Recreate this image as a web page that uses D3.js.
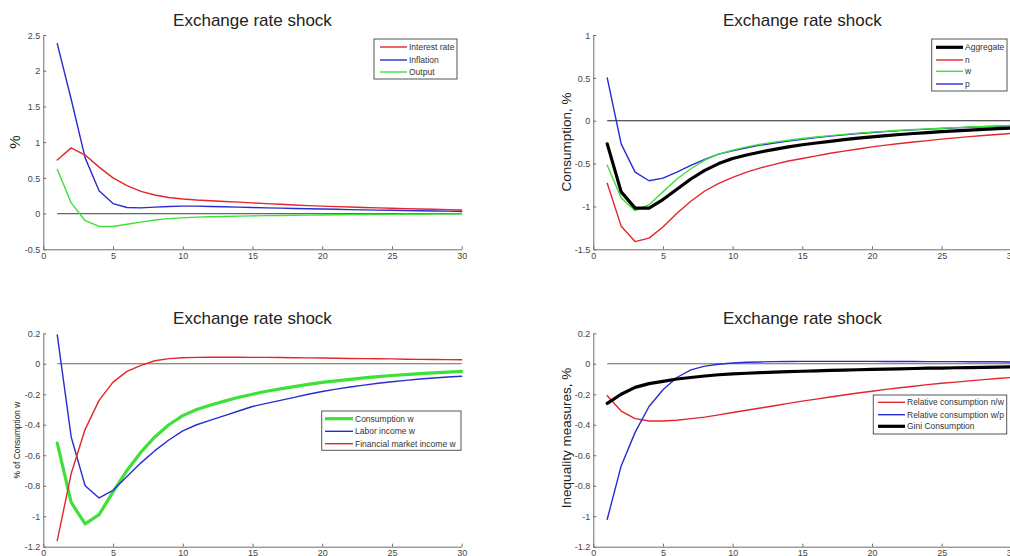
<!DOCTYPE html>
<html><head><meta charset="utf-8">
<script src="https://cdn.jsdelivr.net/npm/d3@7"></script>
<style>
html,body{margin:0;padding:0;background:#fff;overflow:hidden;}
text{font-family:"Liberation Sans",Arial,sans-serif;}
</style></head>
<body>
<svg id="c" width="1010" height="556"></svg>
<script>
// ---- data ----
const periods = d3.range(1, 31);
const xTicks = [0, 5, 10, 15, 20, 25, 30];
const chartTitle = "Exchange rate shock";

// Panel 1
const p1Labels = ["Interest rate", "Inflation", "Output"];
const p1YTicks = [-0.5, 0, 0.5, 1, 1.5, 2, 2.5];
const interestRate = [0.75,0.92,0.82,0.65,0.50,0.39,0.31,0.26,0.225,0.205,0.19,0.18,0.17,0.16,0.15,0.14,0.13,0.12,0.112,0.105,0.098,0.092,0.086,0.08,0.075,0.07,0.065,0.06,0.055,0.05];
const inflation = [2.38,1.60,0.78,0.32,0.14,0.085,0.08,0.09,0.10,0.105,0.105,0.10,0.095,0.09,0.085,0.08,0.076,0.072,0.068,0.064,0.06,0.056,0.052,0.049,0.046,0.043,0.04,0.037,0.034,0.03];
const output = [0.62,0.15,-0.10,-0.18,-0.18,-0.15,-0.12,-0.09,-0.07,-0.06,-0.05,-0.045,-0.04,-0.036,-0.032,-0.029,-0.026,-0.023,-0.021,-0.019,-0.017,-0.015,-0.013,-0.012,-0.011,-0.01,-0.009,-0.008,-0.007,-0.006];

// Panel 2
const p2Labels = ["Aggregate", "n", "w", "p"];
const p2YTicks = [-1.5, -1, -0.5, 0, 0.5, 1];
const consAggregate = [-0.27,-0.83,-1.02,-1.02,-0.92,-0.80,-0.68,-0.58,-0.50,-0.44,-0.40,-0.365,-0.335,-0.305,-0.28,-0.26,-0.24,-0.22,-0.203,-0.188,-0.174,-0.161,-0.149,-0.138,-0.128,-0.118,-0.109,-0.1,-0.092,-0.085];
const consN = [-0.73,-1.23,-1.41,-1.37,-1.24,-1.08,-0.94,-0.82,-0.73,-0.66,-0.60,-0.55,-0.51,-0.47,-0.44,-0.41,-0.38,-0.355,-0.33,-0.305,-0.285,-0.265,-0.248,-0.232,-0.215,-0.2,-0.186,-0.172,-0.16,-0.148];
const consW = [-0.52,-0.90,-1.05,-0.98,-0.83,-0.68,-0.56,-0.46,-0.39,-0.345,-0.305,-0.275,-0.25,-0.228,-0.208,-0.19,-0.174,-0.159,-0.145,-0.133,-0.122,-0.112,-0.103,-0.095,-0.087,-0.08,-0.073,-0.067,-0.061,-0.055];
const consP = [0.50,-0.27,-0.60,-0.70,-0.67,-0.60,-0.52,-0.45,-0.39,-0.35,-0.315,-0.285,-0.26,-0.237,-0.216,-0.197,-0.18,-0.165,-0.151,-0.138,-0.127,-0.116,-0.107,-0.098,-0.09,-0.083,-0.076,-0.07,-0.064,-0.059];

// Panel 3
const p3Labels = ["Consumption w", "Labor income w", "Financial market income w"];
const p3YTicks = [-1.2, -1, -0.8, -0.6, -0.4, -0.2, 0, 0.2];
const consumptionW = [-0.52,-0.91,-1.05,-0.99,-0.84,-0.70,-0.58,-0.48,-0.40,-0.34,-0.30,-0.27,-0.245,-0.22,-0.20,-0.18,-0.165,-0.15,-0.135,-0.122,-0.112,-0.102,-0.093,-0.084,-0.077,-0.071,-0.065,-0.06,-0.055,-0.05];
const laborIncomeW = [0.19,-0.48,-0.80,-0.88,-0.83,-0.74,-0.65,-0.57,-0.50,-0.44,-0.40,-0.37,-0.34,-0.31,-0.28,-0.26,-0.24,-0.22,-0.2,-0.182,-0.166,-0.152,-0.14,-0.128,-0.118,-0.109,-0.1,-0.093,-0.087,-0.082];
const finIncomeW = [-1.16,-0.72,-0.43,-0.24,-0.12,-0.05,-0.01,0.02,0.034,0.04,0.042,0.043,0.043,0.043,0.042,0.042,0.041,0.04,0.039,0.038,0.036,0.035,0.034,0.033,0.032,0.03,0.029,0.028,0.027,0.026];

// Panel 4
const p4Labels = ["Relative consumption n/w", "Relative consumption w/p", "Gini Consumption"];
const p4YTicks = [-1.2, -1, -0.8, -0.6, -0.4, -0.2, 0, 0.2];
const relConsNW = [-0.21,-0.31,-0.36,-0.375,-0.375,-0.37,-0.36,-0.35,-0.335,-0.32,-0.305,-0.29,-0.275,-0.26,-0.245,-0.232,-0.218,-0.205,-0.192,-0.18,-0.168,-0.157,-0.147,-0.137,-0.128,-0.12,-0.112,-0.104,-0.097,-0.09];
const relConsWP = [-1.02,-0.67,-0.45,-0.28,-0.17,-0.09,-0.04,-0.015,-0.003,0.005,0.01,0.012,0.014,0.015,0.016,0.016,0.016,0.016,0.016,0.016,0.015,0.015,0.015,0.014,0.014,0.014,0.013,0.013,0.013,0.012];
const giniCons = [-0.26,-0.20,-0.155,-0.13,-0.115,-0.10,-0.09,-0.08,-0.072,-0.066,-0.062,-0.058,-0.055,-0.052,-0.049,-0.046,-0.043,-0.041,-0.039,-0.037,-0.035,-0.033,-0.031,-0.029,-0.028,-0.026,-0.025,-0.023,-0.022,-0.02];

// ---- styling ----
const RED = "#e3262b", BLUE = "#2b2bcf", GREEN = "#3ee03a", BLACK = "#000";
const THIN = 1.4, THICK = 3.2;

const panels = [
  { x0: 43.3, x1: 461.7, yTop: 35, yBot: 249.3, yDomain: [-0.5, 2.5], yTicks: p1YTicks,
    titleY: 26, ylabel: "%", ylabelX: 15, ylabelY: 142, ylabelSize: 15,
    series: [
      { name: p1Labels[0], values: interestRate, color: RED, w: THIN },
      { name: p1Labels[1], values: inflation, color: BLUE, w: THIN },
      { name: p1Labels[2], values: output, color: GREEN, w: THIN }
    ], drawOrder: [2, 1, 0],
    legend: { x: 374, y: 39, w: 83, h: 40, lineX0: 380, lineX1: 407, rows: [47, 60, 72], zeroColor: "#666" } },
  { x0: 593.3, x1: 1011.3, yTop: 35, yBot: 249.3, yDomain: [-1.5, 1], yTicks: p2YTicks,
    titleY: 26, ylabel: "Consumption, %", ylabelX: 566, ylabelY: 142, ylabelSize: 13.5,
    series: [
      { name: p2Labels[0], values: consAggregate, color: BLACK, w: THICK },
      { name: p2Labels[1], values: consN, color: RED, w: THIN },
      { name: p2Labels[2], values: consW, color: GREEN, w: THIN },
      { name: p2Labels[3], values: consP, color: BLUE, w: THIN }
    ], drawOrder: [1, 3, 2, 0],
    legend: { x: 931.7, y: 39, w: 75.3, h: 52, lineX0: 936, lineX1: 963, rows: [47.3, 60, 71.3, 84], zeroColor: "#222" } },
  { x0: 43.3, x1: 461.7, yTop: 333.3, yBot: 546.7, yDomain: [-1.2, 0.2], yTicks: p3YTicks,
    titleY: 324, ylabel: "% of Consumption w", ylabelX: 17, ylabelY: 440, ylabelSize: 8.4,
    series: [
      { name: p3Labels[0], values: consumptionW, color: GREEN, w: THICK },
      { name: p3Labels[1], values: laborIncomeW, color: BLUE, w: THIN },
      { name: p3Labels[2], values: finIncomeW, color: RED, w: THIN }
    ], drawOrder: [0, 1, 2],
    legend: { x: 321.7, y: 411, w: 139.3, h: 39.3, lineX0: 325, lineX1: 353, rows: [418.7, 431.3, 443.7], zeroColor: "#666" } },
  { x0: 593.3, x1: 1011.3, yTop: 333.3, yBot: 546.7, yDomain: [-1.2, 0.2], yTicks: p4YTicks,
    titleY: 324, ylabel: "Inequality measures, %", ylabelX: 566.7, ylabelY: 438, ylabelSize: 13.5,
    series: [
      { name: p4Labels[0], values: relConsNW, color: RED, w: THIN },
      { name: p4Labels[1], values: relConsWP, color: BLUE, w: THIN },
      { name: p4Labels[2], values: giniCons, color: BLACK, w: THICK }
    ], drawOrder: [0, 1, 2],
    legend: { x: 873.3, y: 395, w: 133.4, h: 39, lineX0: 878, lineX1: 905, rows: [402.3, 414.7, 426.3], zeroColor: "#666" } }
];

const svg = d3.select("#c");
const fmt = d => String(+(+d).toFixed(2));

panels.forEach(p => {
  const x = d3.scaleLinear().domain([0, 30]).range([p.x0, p.x1]);
  const y = d3.scaleLinear().domain(p.yDomain).range([p.yBot, p.yTop]);
  const g = svg.append("g");

  // axes
  const ax = g.append("g").attr("transform", `translate(0,${p.yBot})`)
    .call(d3.axisBottom(x).tickValues(xTicks).tickFormat(fmt).tickSizeInner(-3).tickSizeOuter(0).tickPadding(3));
  const ay = g.append("g").attr("transform", `translate(${p.x0},0)`)
    .call(d3.axisLeft(y).tickValues(p.yTicks).tickFormat(fmt).tickSizeInner(-3).tickSizeOuter(0).tickPadding(3));
  [ax, ay].forEach(a => {
    a.select(".domain").attr("stroke", "#6e6e6e").attr("stroke-width", 1);
    a.selectAll(".tick line").attr("stroke", "#6e6e6e");
    a.selectAll(".tick text").attr("fill", "#444").style("font-size", "9px").style("font-family", "'Liberation Sans',Arial,sans-serif");
  });
  ay.selectAll(".tick text").attr("dy", "0.35em");

  // zero line
  g.append("line")
    .attr("x1", x(1)).attr("x2", x(30)).attr("y1", y(0)).attr("y2", y(0))
    .attr("stroke", p.legend.zeroColor).attr("stroke-width", 1.1);

  // series
  const line = d3.line().x((d, i) => x(periods[i])).y(d => y(d));
  p.drawOrder.forEach(k => {
    const s = p.series[k];
    g.append("path").datum(s.values).attr("d", line)
      .attr("fill", "none").attr("stroke", s.color).attr("stroke-width", s.w)
      .attr("stroke-linejoin", "round").attr("stroke-linecap", "round");
  });

  // title
  g.append("text").attr("x", (p.x0 + p.x1) / 2).attr("y", p.titleY)
    .attr("text-anchor", "middle").attr("fill", "#222").style("font-size", "17px")
    .text(chartTitle);

  // y label
  g.append("text").attr("transform", `translate(${p.ylabelX},${p.ylabelY}) rotate(-90)`)
    .attr("text-anchor", "middle").attr("dy", "0.35em").attr("fill", "#222")
    .style("font-size", p.ylabelSize + "px").text(p.ylabel);

  // legend
  const L = p.legend;
  const lg = g.append("g");
  lg.append("rect").attr("x", L.x).attr("y", L.y).attr("width", L.w).attr("height", L.h)
    .attr("fill", "#fff").attr("stroke", "#555").attr("stroke-width", 1);
  p.series.forEach((s, i) => {
    lg.append("line").attr("x1", L.lineX0).attr("x2", L.lineX1).attr("y1", L.rows[i]).attr("y2", L.rows[i])
      .attr("stroke", s.color).attr("stroke-width", s.w);
    lg.append("text").attr("x", L.lineX1 + 2).attr("y", L.rows[i]).attr("dy", "0.35em")
      .attr("fill", "#333").style("font-size", "8.5px").text(s.name);
  });
});
</script>
</body></html>
